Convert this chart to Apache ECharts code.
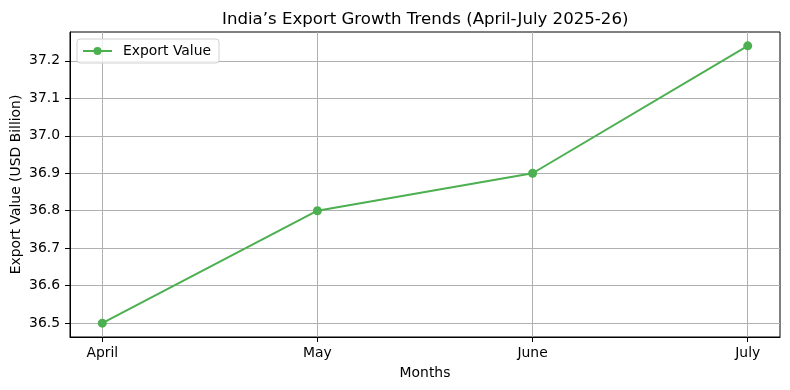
<!DOCTYPE html>
<html>
<head>
<meta charset="utf-8">
<script src="https://cdn.jsdelivr.net/npm/echarts@6/dist/echarts.min.js"></script>
<style>html,body{margin:0;padding:0;background:#fff}#c{width:790px;height:390px}</style>
</head>
<body>
<div id="c"></div>
<script>
const months = ['April', 'May', 'June', 'July'];
const exportValues = [36.5, 36.8, 36.9, 37.24];
const yTicks = [36.5, 36.6, 36.7, 36.8, 36.9, 37.0, 37.1, 37.2];
const seriesName = 'Export Value';

const FONT = 'DejaVu Sans';
const dataMin = Math.min(...exportValues), dataMax = Math.max(...exportValues);
const pad = (dataMax - dataMin) * 0.05;
const xIdx = months.map((m, i) => i);

const chart = echarts.init(document.getElementById('c'), null, {renderer: 'canvas'});
chart.setOption({
  animation: false,
  backgroundColor: '#fff',
  textStyle: {fontFamily: FONT},
  title: {
    text: 'India’s Export Growth Trends (April-July 2025-26)',
    left: 217, top: 6,
    textStyle: {fontFamily: FONT, fontSize: 16.6, fontWeight: 'normal', color: '#000'}
  },
  grid: {left: 70, right: 10, top: 32, bottom: 53, show: true, borderColor: '#000', borderWidth: 1,
    containLabel: false, outerBoundsMode: 'none'},
  legend: {
    left: 77, top: 39, padding: [5, 8, 5, 5],
    data: [seriesName],
    itemWidth: 29, itemHeight: 10,
    borderColor: '#d0d0d0', borderWidth: 1, borderRadius: 3,
    backgroundColor: 'rgba(255,255,255,0.8)',
    textStyle: {fontFamily: FONT, fontSize: 13.9, color: '#000', padding: [0, 0, 0, 6]}
  },
  xAxis: {
    type: 'value',
    min: -0.15, max: 3.15,
    name: 'Months', nameLocation: 'middle', nameGap: 29, nameMoveOverlap: false,
    nameTextStyle: {fontFamily: FONT, fontSize: 13.9, color: '#000'},
    axisLine: {show: true, onZero: false, lineStyle: {color: '#000', width: 1}},
    axisTick: {show: true, length: 5, inside: false, lineStyle: {color: '#000'}, customValues: xIdx},
    axisLabel: {fontFamily: FONT, fontSize: 13.9, color: '#000', margin: 9, customValues: xIdx,
      formatter: v => months[Math.round(v)] || ''},
    splitLine: {show: true, lineStyle: {color: '#b0b0b0', width: 1}}
  },
  yAxis: {
    type: 'value',
    min: dataMin - pad, max: dataMax + pad,
    name: 'Export Value (USD Billion)', nameLocation: 'middle', nameGap: 47, nameMoveOverlap: false,
    nameTextStyle: {fontFamily: FONT, fontSize: 13.9, color: '#000'},
    axisLine: {show: true, onZero: false, lineStyle: {color: '#000', width: 1}},
    axisTick: {show: true, length: 5, inside: false, lineStyle: {color: '#000'}, customValues: yTicks},
    axisLabel: {fontFamily: FONT, fontSize: 13.9, color: '#000', margin: 10, customValues: yTicks,
      formatter: v => v.toFixed(1)},
    splitLine: {show: true, lineStyle: {color: '#b0b0b0', width: 1}}
  },
  series: [{
    name: seriesName,
    type: 'line',
    data: months.map((m, i) => [i, exportValues[i]]),
    symbol: 'circle', symbolSize: 9,
    lineStyle: {color: '#4CAF50', width: 2},
    itemStyle: {color: '#4CAF50'},
    z: 5
  }]
});
</script>
</body>
</html>
